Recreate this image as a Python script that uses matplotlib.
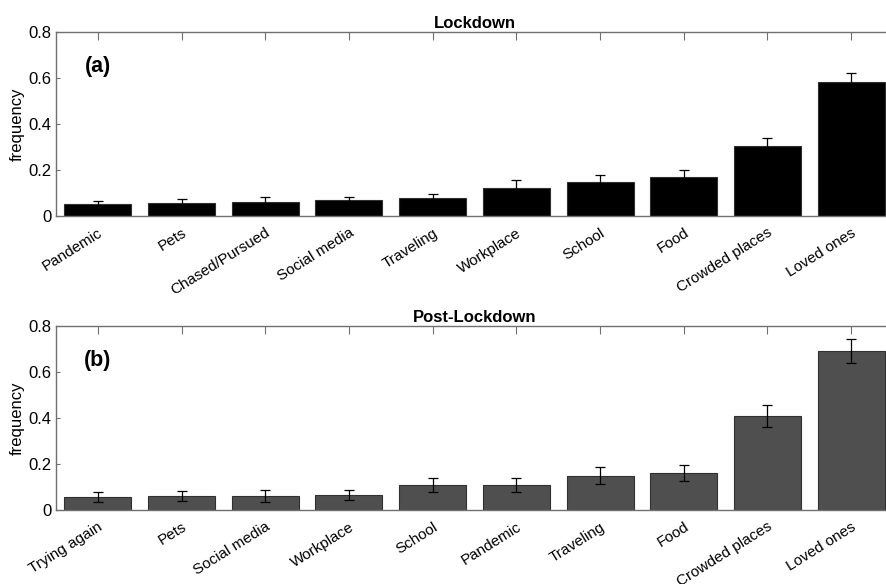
import matplotlib
matplotlib.use('Agg')
import matplotlib.pyplot as plt
import matplotlib.transforms as mtransforms
import numpy as np

plt.rcParams['font.family'] = ['Liberation Sans', 'DejaVu Sans']

lock_labels = ['Pandemic', 'Pets', 'Chased/Pursued', 'Social media', 'Traveling',
               'Workplace', 'School', 'Food', 'Crowded places', 'Loved ones']
lock_values = [0.053, 0.058, 0.062, 0.068, 0.080, 0.122, 0.149, 0.171, 0.303, 0.584]
lock_errors = [0.013, 0.015, 0.019, 0.015, 0.017, 0.033, 0.031, 0.030, 0.035, 0.038]

post_labels = ['Trying again', 'Pets', 'Social media', 'Workplace', 'School',
               'Pandemic', 'Traveling', 'Food', 'Crowded places', 'Loved ones']
post_values = [0.058, 0.061, 0.062, 0.065, 0.109, 0.109, 0.149, 0.161, 0.410, 0.691]
post_errors = [0.022, 0.020, 0.027, 0.023, 0.030, 0.032, 0.038, 0.035, 0.048, 0.051]

W, H = 886, 584
fig = plt.figure(figsize=(W / 100, H / 100), dpi=100)

SPINE = '#707070'
FS = 12


def panel(rect, labels, values, errors, color, title, tag):
    ax = fig.add_axes(rect)
    x = np.arange(1, len(values) + 1)
    ax.bar(x, values, width=0.8, color=color, edgecolor='#303030', linewidth=0.8, zorder=2)
    ax.errorbar(x, values, yerr=errors, fmt='none', ecolor='black', elinewidth=0.9,
                capsize=3.5, capthick=0.9, zorder=3)
    ax.set_xlim(0.5, len(values) + 0.5)
    ax.set_ylim(0, 0.8)
    ax.set_yticks([0, 0.2, 0.4, 0.6, 0.8])
    ax.set_yticklabels(['0', '0.2', '0.4', '0.6', '0.8'], fontsize=FS)
    ax.set_xticks(x)
    ax.set_xticklabels(labels, rotation=32, ha='right', va='top',
                       rotation_mode='anchor', fontsize=11)
    # labels sit a little right of their ticks, as in the original
    shift = mtransforms.ScaledTranslation(3 / 100, 0, fig.dpi_scale_trans)
    for lab in ax.get_xticklabels():
        lab.set_transform(lab.get_transform() + shift)
    ax.tick_params(axis='x', direction='in', length=6, top=True, color=SPINE, pad=7)
    ax.tick_params(axis='y', direction='in', length=3, color=SPINE, pad=3)
    for s in ax.spines.values():
        s.set_color(SPINE)
        s.set_linewidth(1.0)
    ax.set_ylabel('frequency', fontsize=FS, labelpad=3)
    ax.set_title(title, fontsize=FS, fontweight='bold', pad=3)
    ax.text(1, 0.648, tag, fontsize=15.5, fontweight='bold', ha='center', va='center')
    return ax


ax_w = (893 - 56) / W
panel([56 / W, 1 - 216 / H, ax_w, 184 / H], lock_labels, lock_values, lock_errors,
      'black', 'Lockdown', '(a)')
panel([56 / W, 1 - 510 / H, ax_w, 184 / H], post_labels, post_values, post_errors,
      '#4f4f4f', 'Post-Lockdown', '(b)')

fig.savefig('out.png', dpi=100)
